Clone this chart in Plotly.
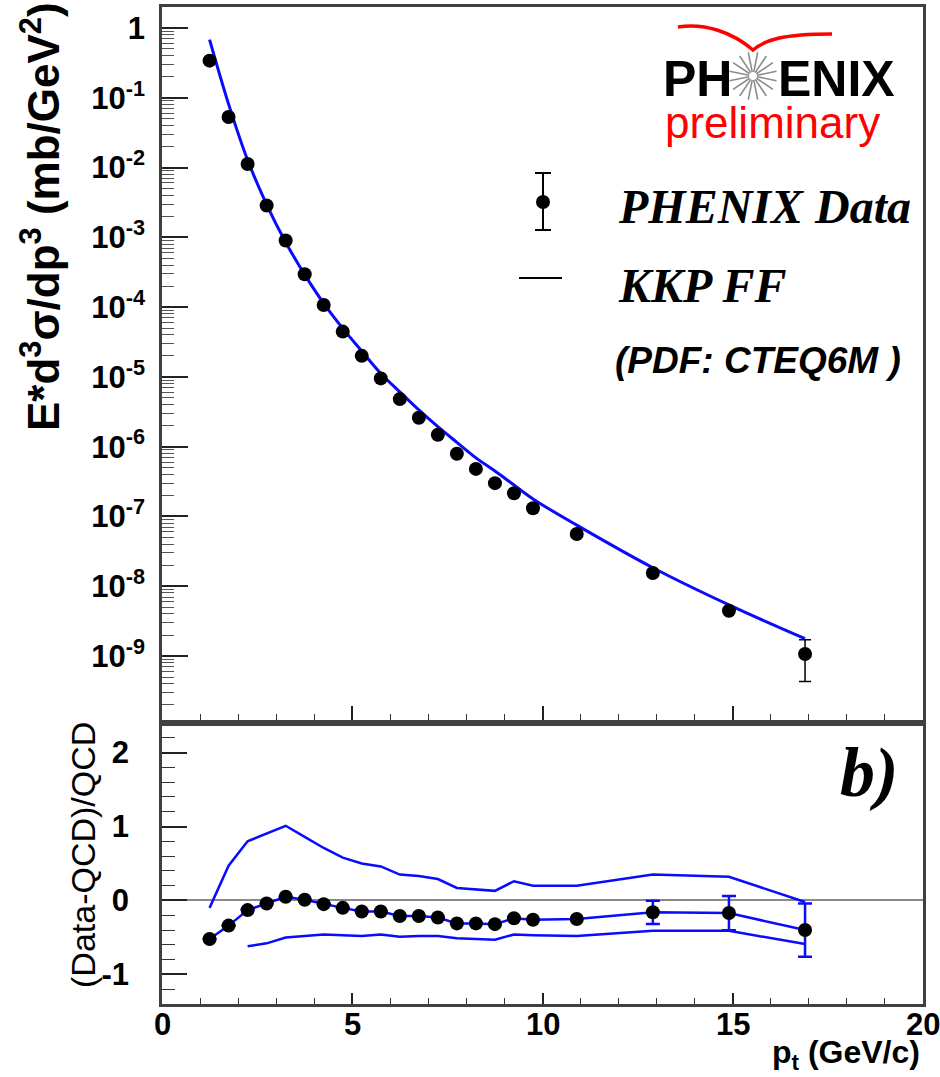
import math
import plotly.graph_objects as go

# ---------------- data ----------------
pt = [1.25, 1.75, 2.25, 2.75, 3.25, 3.75, 4.25, 4.75, 5.25, 5.75, 6.25,
      6.75, 7.25, 7.75, 8.25, 8.75, 9.25, 9.75, 10.9, 12.9, 14.9, 16.9]

# invariant cross section, PHENIX data (mb/GeV^2)
data_xsec = [0.34, 0.053, 0.0112, 2.85e-3, 9.0e-4, 2.95e-4, 1.07e-4, 4.45e-5,
             2.0e-5, 9.5e-6, 4.8e-6, 2.6e-6, 1.48e-6, 7.9e-7, 4.8e-7, 3.0e-7,
             2.15e-7, 1.31e-7, 5.6e-8, 1.55e-8, 4.46e-9, 1.07e-9]
data_xsec_err = [None] * 21 + [6.4e-10]

# NLO pQCD with KKP fragmentation functions
kkp_xsec = [0.68, 0.081, 0.0128, 2.95e-3, 8.5e-4, 2.92e-4, 1.13e-4, 4.95e-5,
            2.34e-5, 1.12e-5, 6.1e-6, 3.36e-6, 1.93e-6, 1.15e-6, 6.9e-7,
            4.47e-7, 2.82e-7, 1.78e-7, 7.5e-8, 1.84e-8, 5.4e-9, 1.77e-9]

# (Data-QCD)/QCD
ratio = [-0.52, -0.34, -0.13, -0.04, 0.05, 0.01, -0.05, -0.10, -0.15, -0.15,
         -0.21, -0.21, -0.23, -0.31, -0.31, -0.32, -0.24, -0.26, -0.25,
         -0.16, -0.17, -0.40]
ratio_err = [None] * 19 + [0.157, 0.232, 0.36]

# theory scale band, upper and lower edge
band_hi = [-0.10, 0.47, 0.80, 0.91, 1.01, 0.86, 0.71, 0.58, 0.50, 0.46, 0.35,
           0.33, 0.29, 0.17, 0.15, 0.13, 0.26, 0.20, 0.20, 0.35, 0.32, -0.02]
band_lo_pt = pt[2:]
band_lo = [-0.62, -0.58, -0.50, -0.48, -0.46, -0.47, -0.48, -0.46, -0.49,
           -0.48, -0.48, -0.51, -0.52, -0.53, -0.46, -0.47, -0.48, -0.41,
           -0.41, -0.59]

top_decades = list(range(-9, 1))
ratio_ticks = [-1, 0, 1, 2]
x_ticks = [0, 5, 10, 15, 20]

# ---------------- geometry helpers ----------------
W, H = 940, 1077
L, R, T, B = 162, 923, 7, 1004          # plot-area edges in pixels
SPLIT = 723                             # boundary between the two pads
low_frac = (B - SPLIT) / (B - T)


def fx(px):
    return (px - L) / (R - L)


def fy(py):
    return (B - py) / (B - T)


SANS = "Liberation Sans"
SERIF = "Liberation Serif"
BLUE = "#0a0aff"
FRAME = "#404040"

fig = go.Figure()

# ---------------- upper pad ----------------
fig.add_trace(go.Scatter(
    x=pt, y=kkp_xsec, mode="lines", line=dict(color=BLUE, width=3, shape="spline"),
    xaxis="x", yaxis="y", showlegend=False, hoverinfo="skip"))
fig.add_trace(go.Scatter(
    x=pt, y=data_xsec, mode="markers",
    marker=dict(color="black", size=14, symbol="circle"),
    error_y=dict(type="data", array=data_xsec_err, color="black", thickness=1.5, width=6),
    xaxis="x", yaxis="y", showlegend=False))

# ---------------- lower pad ----------------
fig.add_trace(go.Scatter(
    x=pt, y=band_hi, mode="lines", line=dict(color=BLUE, width=2.5),
    xaxis="x2", yaxis="y2", showlegend=False))
fig.add_trace(go.Scatter(
    x=band_lo_pt, y=band_lo, mode="lines", line=dict(color=BLUE, width=2.5),
    xaxis="x2", yaxis="y2", showlegend=False))
fig.add_trace(go.Scatter(
    x=pt, y=ratio, mode="lines", line=dict(color=BLUE, width=2.5),
    error_y=dict(type="data", array=ratio_err, color=BLUE, thickness=2.5, width=7),
    xaxis="x2", yaxis="y2", showlegend=False))
fig.add_trace(go.Scatter(
    x=pt, y=ratio, mode="markers", marker=dict(color="black", size=14),
    xaxis="x2", yaxis="y2", showlegend=False))

tickfont = dict(family=SANS, size=31, color="black", weight="bold")
minor_log = [k * 10.0 ** e for e in range(-10, 1) for k in range(2, 10)]

common = dict(showline=True, linecolor=FRAME, linewidth=2.5, mirror=True,
              showgrid=False, zeroline=False, ticks="inside", tickcolor="#222",
              tickwidth=1.5)

fig.update_layout(
    width=W, height=H,
    margin=dict(l=L, r=W - R, t=T, b=H - B, autoexpand=False),
    paper_bgcolor="white", plot_bgcolor="white",
    xaxis=dict(domain=[0, 1], anchor="y", range=[0, 20], tickvals=x_ticks,
               showticklabels=False, ticklen=17,
               minor=dict(ticks="inside", ticklen=9, dtick=1, tick0=0,
                          tickcolor="#333", tickwidth=1.2),
               **common),
    yaxis=dict(domain=[low_frac, 1], anchor="x", type="log", range=[-9.96, 0.30],
               tickvals=[10.0 ** d for d in top_decades],
               ticktext=["1" if d == 0 else "10<sup>%d</sup>" % d for d in top_decades],
               tickfont=tickfont, ticklen=26, ticklabelstandoff=8,
               minor=dict(ticks="inside", ticklen=12, tickvals=minor_log,
                          tickcolor="#555", tickwidth=1.2),
               **common),
    xaxis2=dict(domain=[0, 1], anchor="y2", range=[0, 20], tickvals=x_ticks,
                showticklabels=False, ticklen=11,
                minor=dict(ticks="inside", ticklen=6, dtick=1, tick0=0,
                           tickcolor="#333", tickwidth=1.2),
                **common),
    yaxis2=dict(domain=[0, low_frac], anchor="x2", range=[-1.4, 2.4],
                tickvals=ratio_ticks, ticktext=[str(v) for v in ratio_ticks],
                tickfont=tickfont, ticklen=25, ticklabelstandoff=24,
                minor=dict(ticks="inside", ticklen=13, dtick=0.2, tick0=0,
                           tickcolor="#333", tickwidth=1.2),
                **{k: v for k, v in common.items() if k != "zeroline"},
                zeroline=True, zerolinecolor="#8a8a8a", zerolinewidth=2),
)

ann = []


def text_at(px, py, text, font, anchor="center", angle=0):
    ann.append(dict(x=fx(px), y=fy(py), xref="paper", yref="paper",
                    xanchor=anchor, yanchor="middle", textangle=angle,
                    text=text, showarrow=False, font=font))


# x tick labels under the lower pad, placed at the tick values
for v in x_ticks:
    ann.append(dict(x=v, xref="x2", y=fy(1024), yref="paper", xanchor="center",
                    yanchor="middle", text=str(v), showarrow=False, font=tickfont))

# axis titles
text_at(40, 217, "E*d<sup>3</sup>σ/dp<sup>3</sup> (mb/GeV<sup>2</sup>)",
        dict(family=SANS, size=44, color="black", weight="bold"), angle=-90)
text_at(83, 855, "(Data-QCD)/QCD", dict(family=SANS, size=34, color="black"), angle=-90)
text_at(922, 1054, "p<sub>t</sub> (GeV/c)",
        dict(family=SANS, size=32, color="black", weight="bold"), anchor="right")
text_at(869, 772, "b)", dict(family=SERIF, size=70, color="black", weight="bold", style="italic"))

# legend texts
legend_font = dict(family=SERIF, size=48, color="black", weight="bold", style="italic")
text_at(616, 207, "PHENIX Data", legend_font, anchor="left")
text_at(616, 285, "KKP FF", legend_font, anchor="left")
text_at(613, 360, "(PDF: CTEQ6M )",
        dict(family=SANS, size=37, color="black", weight="bold", style="italic"), anchor="left")

# logo texts
logo_font = dict(family=SANS, size=50, color="black", weight="bold")
text_at(661, 79, "PH", logo_font, anchor="left")
text_at(776, 79, "ENIX", logo_font, anchor="left")
text_at(663, 122, "preliminary", dict(family=SANS, size=44, color="#ff0000"), anchor="left")
fig.update_layout(annotations=ann)

shapes = []
# legend symbol: point with error bar
ex, ey_top, ey_bot, ey_mid = 543, 173, 230, 202
shapes.append(dict(type="line", xref="paper", yref="paper", x0=fx(ex), x1=fx(ex),
                   y0=fy(ey_top), y1=fy(ey_bot), line=dict(color="black", width=2)))
for yy in (ey_top, ey_bot):
    shapes.append(dict(type="line", xref="paper", yref="paper", x0=fx(ex - 8), x1=fx(ex + 8),
                       y0=fy(yy), y1=fy(yy), line=dict(color="black", width=2)))
shapes.append(dict(type="circle", xref="paper", yref="paper", x0=fx(ex - 7), x1=fx(ex + 7),
                   y0=fy(ey_mid - 7), y1=fy(ey_mid + 7), fillcolor="black",
                   line=dict(color="black", width=0)))
# legend symbol: line
shapes.append(dict(type="line", xref="paper", yref="paper", x0=fx(519), x1=fx(562),
                   y0=fy(278), y1=fy(278), line=dict(color="black", width=2)))

# logo star
cx, cy = 753, 76
for i in range(16):
    a = 2 * math.pi * i / 16 + math.pi / 16
    r0, r1 = 4, 24
    shapes.append(dict(type="line", xref="paper", yref="paper",
                       x0=fx(cx + r0 * math.cos(a)), y0=fy(cy + r0 * math.sin(a)),
                       x1=fx(cx + r1 * math.cos(a)), y1=fy(cy + r1 * math.sin(a)),
                       line=dict(color="#8c8c8c", width=1.6)))


def pp(px, py):
    return "%.5f,%.5f" % (fx(px), fy(py))


# logo arc
arc = ("M " + pp(678, 27) + " C " + pp(705, 23) + " " + pp(732, 32) + " " + pp(753, 50) +
       " C " + pp(765, 40) + " " + pp(782, 34) + " " + pp(832, 34))
shapes.append(dict(type="path", xref="paper", yref="paper", path=arc,
                   line=dict(color="#ff0000", width=3.5)))
fig.update_layout(shapes=shapes)

fig.write_html("out.html")
